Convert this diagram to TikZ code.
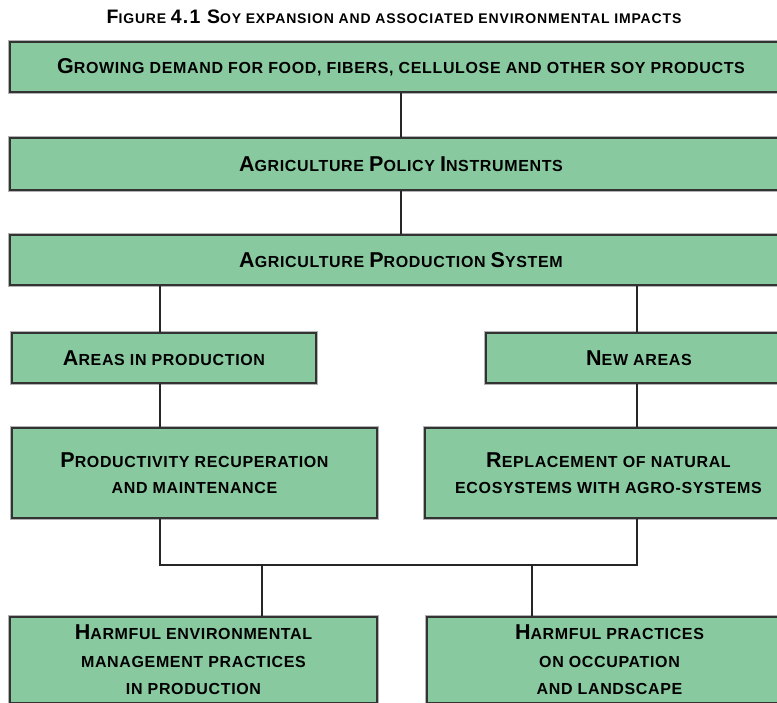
\documentclass[tikz,border=0pt]{standalone}
\usepackage{fontspec}
\setmainfont{Liberation Sans}
\newfontfamily\boxfont{Liberation Sans}[LetterSpace=4.0]
\newfontfamily\titlefont{Liberation Sans}[LetterSpace=6.0]
\usetikzlibrary{calc}
\definecolor{soygreen}{RGB}{136,201,160}
\newcommand{\capA}[1]{{\fontsize{21.5}{24}\selectfont #1}}
\newcommand{\capB}[1]{{\fontsize{19.5}{22}\selectfont #1}}

\tikzset{
  soybox/.style={draw=black!80, line width=2.2pt, fill=soygreen, inner sep=0pt,
    preaction={draw=black!30, line width=3.6pt},
    align=center, font=\boxfont\bfseries\fontsize{16}{26}\selectfont},
  threebox/.style={soybox, font=\boxfont\bfseries\fontsize{16}{27.5}\selectfont},
  link/.style={draw=black!85, line width=2pt}
}

\begin{document}
\begin{tikzpicture}[x=1pt, y=-1pt]

\useasboundingbox (0,0) rectangle (777,702);

 \node [font=\titlefont\bfseries\fontsize{14}{16}\selectfont] (title) at (394,17)
   {\capB{F}IGURE \capB{4.1 S}OY EXPANSION AND ASSOCIATED ENVIRONMENTAL IMPACTS};


 % top chain
 \node [soybox, minimum width=782pt, minimum height=50pt] (grow) at (401,67)
   {\capA{G}ROWING DEMAND FOR FOOD, FIBERS, CELLULOSE AND OTHER SOY PRODUCTS};
 \node [soybox, minimum width=782pt, minimum height=52pt] (policy) at (401,164)
   {\capA{A}GRICULTURE \capA{P}OLICY \capA{I}NSTRUMENTS};
 \node [soybox, minimum width=782pt, minimum height=50pt] (sys) at (401,260)
   {\capA{A}GRICULTURE \capA{P}RODUCTION \capA{S}YSTEM};

 \draw [link] (grow) -- (policy);
 \draw [link] (policy) -- (sys);


 % two branches
 \node [soybox, minimum width=304pt, minimum height=50pt] (areas) at (164,358)
   {\capA{A}REAS IN PRODUCTION};
 \node [soybox, minimum width=306pt, minimum height=50pt] (new) at (639,358)
   {\capA{N}EW AREAS};

 \node [soybox, minimum width=365pt, minimum height=90pt] (prod) at (194.5,473)
   {\capA{P}RODUCTIVITY RECUPERATION\\AND MAINTENANCE};
 \node [soybox, minimum width=367pt, minimum height=90pt] (repl) at (608.5,473)
   {\capA{R}EPLACEMENT OF NATURAL\\ECOSYSTEMS WITH AGRO-SYSTEMS};

 \coordinate (al) at (160,0);
 \coordinate (ar) at (637,0);

 \draw [link] (al |- sys.south) -- (al |- areas.north);
 \draw [link] (ar |- sys.south) -- (ar |- new.north);
 \draw [link] (al |- areas.south) -- (al |- prod.north);
 \draw [link] (ar |- new.south) -- (ar |- repl.north);


 % joining the two
 \coordinate (jl) at (160,565);
 \coordinate (jr) at (637,565);
 \coordinate (dl) at (262,565);
 \coordinate (dr) at (532,565);

 \node [threebox, minimum width=367pt, minimum height=86pt] (harmA) at (193.5,660)
   {\capA{H}ARMFUL ENVIRONMENTAL\\MANAGEMENT PRACTICES\\IN PRODUCTION};
 \node [threebox, minimum width=365pt, minimum height=86pt] (harmB) at (609.5,660)
   {\capA{H}ARMFUL PRACTICES\\ON OCCUPATION\\AND LANDSCAPE};

 \draw [link, line join=miter] (jl |- prod.south) -- (jl) -- (jr) -- (jr |- repl.south);
 \draw [link] (dl) -- (dl |- harmA.north);
 \draw [link] (dr) -- (dr |- harmB.north);

\end{tikzpicture}
\end{document}
